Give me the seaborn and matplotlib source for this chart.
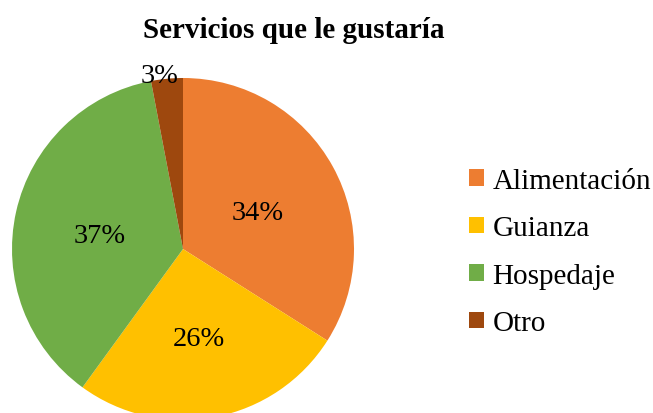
import matplotlib
matplotlib.use("Agg")
import matplotlib.pyplot as plt
import seaborn as sns
import numpy as np

categories = ["Alimentación", "Guianza", "Hospedaje", "Otro"]
values = [34, 26, 37, 3]
colors = ["#ED7D31", "#FFC000", "#70AD47", "#9E480E"]
title = "Servicios que le gustaría"

sns.set_theme(style="white")
plt.rcParams["font.family"] = ["Liberation Serif", "DejaVu Serif"]
plt.rcParams["text.color"] = "black"

W, H = 653, 414
fig = plt.figure(figsize=(W / 100, H / 100), dpi=100)
fig.patch.set_facecolor("white")

cx, cy, r = 183, 250, 171
ax = fig.add_axes([(cx - r) / W, (H - cy - r) / H, 2 * r / W, 2 * r / H])
wedges, texts, autotexts = ax.pie(
    values, colors=colors, startangle=90, counterclock=False,
    autopct="%d%%", pctdistance=0.5,
    wedgeprops=dict(linewidth=0),
    textprops=dict(fontsize=20.5, color="black"),
)
ax.set_xlim(-1, 1)
ax.set_ylim(-1, 1)
ax.set_aspect("equal")

# nudge labels slightly down (visual centring of digits)
for t in autotexts:
    x, y = t.get_position()
    t.set_position((x, y - 0.03))

# move the small slice label outside the pie
w = wedges[-1]
mid = np.deg2rad((w.theta1 + w.theta2) / 2)
autotexts[-1].set_position((1.03 * np.cos(mid) - 0.04, 1.05 * np.sin(mid) - 0.03))

fig.text(294 / W, 1 - 31 / H, title, ha="center", va="center",
         fontweight="bold", fontsize=21, color="black")

fig.legend(wedges, categories, loc="center left",
           bbox_to_anchor=(469 / W, 1 - 253 / H), frameon=False, fontsize=21,
           handlelength=0.5, handleheight=0.5, handletextpad=0.3,
           labelspacing=0.74, borderpad=0, borderaxespad=0)

fig.savefig("out.png", dpi=100, facecolor="white")
